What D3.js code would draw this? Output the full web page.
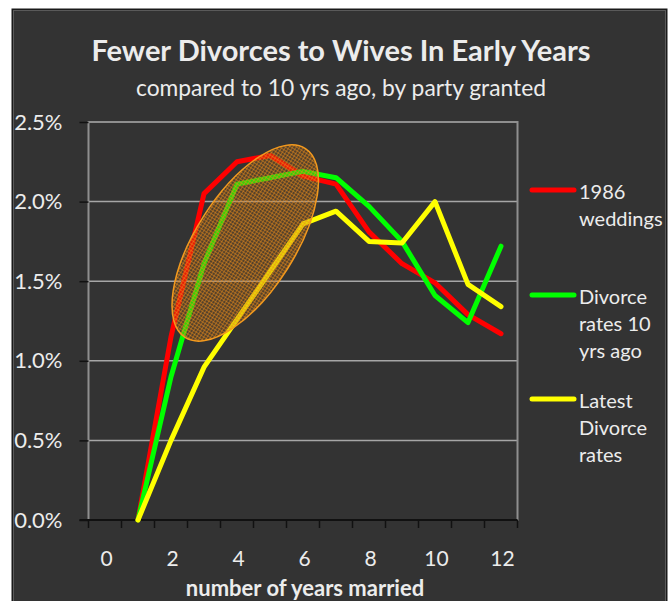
<!DOCTYPE html>
<html>
<head>
<meta charset="utf-8">
<script src="https://cdn.jsdelivr.net/npm/d3@7"></script>
<style>
  html, body { margin: 0; padding: 0; background: #ffffff; }
  svg { display: block; }
  text { font-family: Lato, "Open Sans", sans-serif; fill: #ececec; }
</style>
</head>
<body>
<svg id="chart" width="670" height="601"></svg>
<script>
// ---- data ----
const categories = [0, 1, 2, 3, 4, 5, 6, 7, 8, 9, 10, 11, 12];
const years = [1, 2, 3, 4, 5, 6, 7, 8, 9, 10, 11, 12];
const weddings1986 = [0.0, 0.0115, 0.0205, 0.0225, 0.0229, 0.0216, 0.0211, 0.0181, 0.0161, 0.0149, 0.0129, 0.0117];
const rates10yrsAgo = [0.0, 0.0090, 0.0161, 0.0211, 0.0215, 0.0219, 0.0215, 0.0197, 0.0175, 0.0141, 0.0124, 0.0172];
const latestRates = [0.0, 0.0050, 0.0096, 0.0126, 0.0156, 0.0186, 0.0194, 0.0175, 0.0174, 0.0200, 0.0148, 0.0134];
const yTicks = [0, 0.005, 0.010, 0.015, 0.020, 0.025];
const xLabelCats = [0, 2, 4, 6, 8, 10, 12];
const seriesNames = [["1986", "weddings"], ["Divorce", "rates 10", "yrs ago"], ["Latest", "Divorce", "rates"]];
const ellipseCenter = [4.25, 0.0174]; // year, rate

const series = [
  { name: seriesNames[0], values: weddings1986, color: "#ff0000" },
  { name: seriesNames[1], values: rates10yrsAgo, color: "#00ff00" },
  { name: seriesNames[2], values: latestRates, color: "#ffff00" }
];

// ---- layout ----
const svg = d3.select("#chart");
const plot = { left: 88.5, right: 517.5, top: 122, bottom: 520 };

// outer chart box
svg.append("rect").attr("x", 12.5).attr("y", 9.5).attr("width", 654).attr("height", 600)
  .attr("fill", "#333333").attr("stroke", "#1a1a1a").attr("stroke-width", 2);
svg.append("rect").attr("x", 13.5).attr("y", 10.5).attr("width", 652).attr("height", 600)
  .attr("fill", "none").attr("stroke", "#5a5a5a").attr("stroke-width", 1);

const x = d3.scaleBand().domain(categories).range([plot.left, plot.right]).paddingInner(0).paddingOuter(0);
const y = d3.scaleLinear().domain([0, 0.025]).range([plot.bottom, plot.top]);
const cx = d => x(Math.floor(d)) + x.bandwidth() / 2 + (d - Math.floor(d)) * x.step();

// gridlines
svg.append("g").selectAll("line").data(yTicks.slice(1)).join("line")
  .attr("x1", plot.left).attr("x2", plot.right)
  .attr("y1", d => y(d)).attr("y2", d => y(d))
  .attr("stroke", "#a6a6a6").attr("stroke-width", 1.5);

// plot border
svg.append("rect").attr("x", plot.left).attr("y", plot.top)
  .attr("width", plot.right - plot.left).attr("height", plot.bottom - plot.top)
  .attr("fill", "none").attr("stroke", "#8f8f8f").attr("stroke-width", 2);

// y axis
const yAxis = svg.append("g").attr("transform", `translate(${plot.left},0)`)
  .call(d3.axisLeft(y).tickValues(yTicks).tickSize(9).tickPadding(17).tickFormat(d3.format(".1%")));
yAxis.select(".domain").remove();
yAxis.selectAll(".tick line").attr("stroke", "#111").attr("stroke-width", 1.5);
yAxis.selectAll(".tick text").attr("font-size", 22).attr("fill", "#ececec")
  .style("font-family", "Lato, sans-serif");

// x axis: line + boundary ticks
const xAxisG = svg.append("g");
xAxisG.append("line").attr("x1", plot.left - 9).attr("x2", plot.right)
  .attr("y1", plot.bottom).attr("y2", plot.bottom).attr("stroke", "#111").attr("stroke-width", 2);
xAxisG.selectAll("line.bt").data(d3.range(categories.length + 1)).join("line").attr("class", "bt")
  .attr("x1", i => plot.left + i * x.step()).attr("x2", i => plot.left + i * x.step())
  .attr("y1", plot.bottom).attr("y2", plot.bottom + 8)
  .attr("stroke", "#111").attr("stroke-width", 1.5);
xAxisG.selectAll("text").data(xLabelCats).join("text")
  .attr("x", d => x(d) + x.bandwidth() / 2 + 1.5).attr("y", 566)
  .attr("text-anchor", "middle").attr("font-size", 21).text(d => d);

// x axis title
svg.append("text").attr("x", (plot.left + plot.right) / 2 + 2).attr("y", 596)
  .attr("text-anchor", "middle").attr("font-size", 22).attr("font-weight", "bold")
  .text("number of years married");

// titles
svg.append("text").attr("x", 341).attr("y", 61).attr("text-anchor", "middle")
  .attr("font-size", 29).attr("font-weight", "bold").text("Fewer Divorces to Wives In Early Years");
svg.append("text").attr("x", 341).attr("y", 96).attr("text-anchor", "middle")
  .attr("font-size", 22.8).text("compared to 10 yrs ago, by party granted");

// lines
const line = d3.line().x(d => x(d[0]) + x.bandwidth() / 2).y(d => y(d[1]));
svg.append("g").selectAll("path").data(series).join("path")
  .attr("d", s => line(years.map((yr, i) => [yr, s.values[i]])))
  .attr("fill", "none").attr("stroke", s => s.color).attr("stroke-width", 5)
  .attr("stroke-linejoin", "round").attr("stroke-linecap", "round");

// ellipse annotation with hatch pattern
const defs = svg.append("defs");
const pat = defs.append("pattern").attr("id", "hatch").attr("patternUnits", "userSpaceOnUse")
  .attr("width", 3).attr("height", 3);
pat.append("rect").attr("width", 3).attr("height", 3).attr("fill", "rgba(170,100,20,0.28)");
pat.append("rect").attr("width", 3).attr("height", 1).attr("fill", "rgba(235,140,25,0.5)");
pat.append("rect").attr("width", 1).attr("height", 3).attr("fill", "rgba(235,140,25,0.5)");

svg.append("ellipse")
  .attr("transform", `translate(${cx(ellipseCenter[0])},${y(ellipseCenter[1])}) rotate(-57.5)`)
  .attr("rx", 112).attr("ry", 49.5)
  .attr("fill", "url(#hatch)").attr("stroke", "#f39a1e").attr("stroke-width", 1.5);

// legend
const legendY = [190, 295, 399];
const lg = svg.append("g");
series.forEach((s, i) => {
  lg.append("line").attr("x1", 532).attr("x2", 574).attr("y1", legendY[i]).attr("y2", legendY[i])
    .attr("stroke", s.color).attr("stroke-width", 5).attr("stroke-linecap", "round");
  s.name.forEach((t, j) => {
    lg.append("text").attr("x", 579).attr("y", legendY[i] + 9 + j * 27)
      .attr("font-size", 20).text(t);
  });
});
</script>
</body>
</html>
